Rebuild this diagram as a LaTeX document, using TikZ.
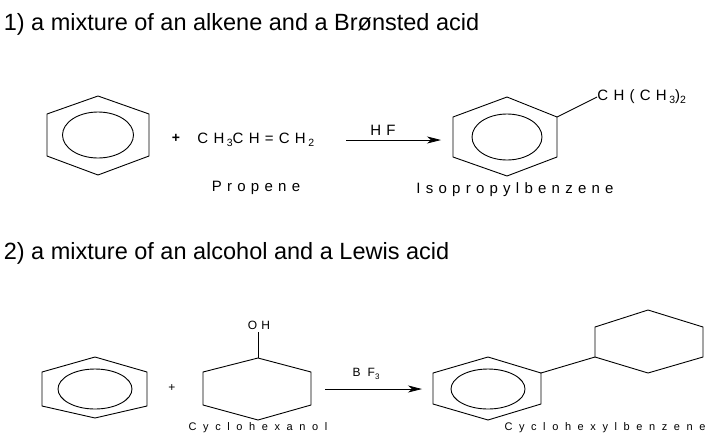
\documentclass[tikz,border=0pt]{standalone}
\usepackage{fontspec}
\setmainfont{Liberation Sans}
\newfontfamily\chemA[LetterSpace=35]{Liberation Sans}
\newfontfamily\chemB[LetterSpace=60]{Liberation Sans}
\usetikzlibrary{arrows.meta}
\newcommand{\sbs}[1]{\,\raisebox{-3pt}{\fontsize{10.5}{11}\selectfont #1}}
\begin{document}
\begin{tikzpicture}[x=1pt,y=-1pt,line width=0.9pt,
  head/.style={anchor=west,font=\fontsize{23.5}{26}\selectfont},
  lab/.style={font=\chemA\fontsize{15}{17}\selectfont,inner sep=0pt},
  labw/.style={font=\chemB\fontsize{11}{12}\selectfont,inner sep=0pt},
  rxn/.style={-{Stealth[length=14pt,width=7pt,inset=4pt]},line width=0.8pt}]
\useasboundingbox (0,0) rectangle (722,445);
\node[head] (h1) at (0,24) {1) a mixture of an alkene and a Brønsted acid};
\node[head] (h2) at (0,253) {2) a mixture of an alcohol and a Lewis acid};
% benzene 1
\draw (98,96)--(149,114)--(149,156)--(98,175)--(47,156)--(47,114)--cycle;
\draw (98,135) ellipse (35.5 and 23);
\node[font=\bfseries\fontsize{14}{15}\selectfont] (p1) at (176,138) {+};
\node[lab,anchor=west] (pr) at (197,140) {CH\sbs{3}CH=CH\sbs{2}};
\node[lab] (prn) at (256,188) {Propene};
\coordinate (a1s) at (346,140); \coordinate (a1e) at (441,140);
\draw[rxn] (a1s)--(a1e);
\node[lab] (hf) at (383,130) {HF};
% isopropylbenzene
\draw (507,97)--(557,117)--(557,157)--(507,176)--(453,157)--(453,117)--cycle;
\draw (507,137) ellipse (35 and 23);
\coordinate (c1) at (557,117);
\node[lab,anchor=west] (ipr) at (597,97) {CH(CH\sbs{3})\raisebox{-3pt}{\fontsize{10.5}{11}\selectfont 2}};
\draw (c1)--(ipr.west);
\node[lab] (iprn) at (515,190) {Isopropylbenzene};
% benzene 3
\draw (95,357)--(147,372)--(147,406)--(95,418)--(42,406)--(42,372)--cycle;
\draw (95,389) ellipse (37 and 20);
\node[font=\fontsize{12}{13}\selectfont] (p2) at (172,388) {+};
% cyclohexanol
\draw (258,358)--(311,372)--(311,405)--(258,420)--(203,405)--(203,372)--cycle;
\coordinate (c2) at (258,358);
\node[lab,font=\chemA\fontsize{12}{13}\selectfont] (oh) at (259,325) {OH};
\draw (c2)--(258,332);
\node[labw] (chn) at (258,428) {Cyclohexanol};
\coordinate (a2s) at (325,389); \coordinate (a2e) at (422,389);
\draw[rxn] (a2s)--(a2e);
\node[labw,font=\chemB\fontsize{12}{13}\selectfont] (bf) at (366,374) {BF\raisebox{-3pt}{\fontsize{8}{9}\selectfont 3}};
% cyclohexylbenzene
\draw (488,357)--(541,373)--(541,404)--(488,420)--(433,404)--(433,373)--cycle;
\draw (488,389) ellipse (37 and 20);
\draw (648,310)--(703,327)--(703,357)--(648,373)--(595,357)--(595,327)--cycle;
\coordinate (c3) at (541,373); \coordinate (c4) at (595,357);
\draw (c3)--(c4);
\node[labw] (chbn) at (605,428) {Cyclohexylbenzene};
\end{tikzpicture}
\end{document}
